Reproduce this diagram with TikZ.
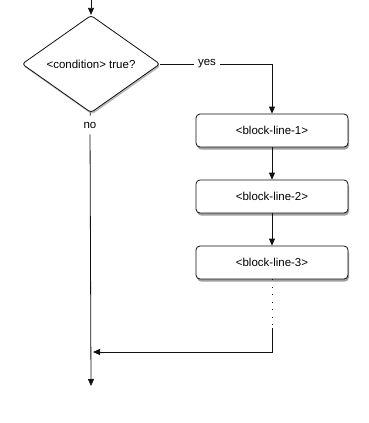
\documentclass[tikz,border=0pt]{standalone}
\usepackage{fontspec}
\setmainfont{Liberation Sans}
\usepackage{xcolor}
\definecolor{ink}{HTML}{111111}
\usetikzlibrary{positioning,shapes.geometric,arrows.meta,shadows}

\begin{document}
\begin{tikzpicture}[
  x=1pt, y=-1pt,
  font=\fontsize{11.5}{13}\selectfont,
  decision/.style={diamond, draw=ink, thick, fill=white, rounded corners=3pt,
               inner sep=0pt, minimum width=138pt, minimum height=66pt,
               drop shadow={shadow xshift=1pt, shadow yshift=-2pt, opacity=.55}},
  block/.style={draw=ink, thick, fill=white, rounded corners=4pt, align=center,
               minimum width=152pt, minimum height=33pt,
               drop shadow={shadow xshift=1pt, shadow yshift=-2.5pt, opacity=.75}},
  lbl/.style={fill=white, inner sep=4pt},
  link/.style={-{Triangle[length=7pt,width=6pt]}, ink, thick}
]
  \useasboundingbox (0,0) rectangle (369,423);

  \coordinate (start) at (91,0);
  \node[decision] (cond) at (91,64) {<condition> true?};
  \node[lbl] (yes) at (207,64) {yes};
  \node[lbl, inner sep=6pt] (no) at (90,125) {no};

  \node[block] (b1) at (272,130.5) {<block-line-1>};
  \node[block] (b2) at (272,196.5) {<block-line-2>};
  \node[block] (b3) at (272,262.5) {<block-line-3>};

  \coordinate (dots) at (272,328);
  \coordinate (turn) at (272,352);
  \coordinate (merge) at (93,352);
  \coordinate (stop) at (91,386);

  \draw[link] (start) -- (cond);
  \draw[ink, thick] (cond) -- (yes);
  \draw[link] (yes) -| (b1);
  \draw[link] (b1) -- (b2);
  \draw[link] (b2) -- (b3);
  \draw[ink, thick, dash pattern=on 1pt off 6.5pt] (b3) -- (dots);
  \draw[link] (dots) -- (turn) -- (merge);
  \draw[ink, thick] (cond) -- (no);
  \draw[link] (no) -- (stop);
\end{tikzpicture}
\end{document}
